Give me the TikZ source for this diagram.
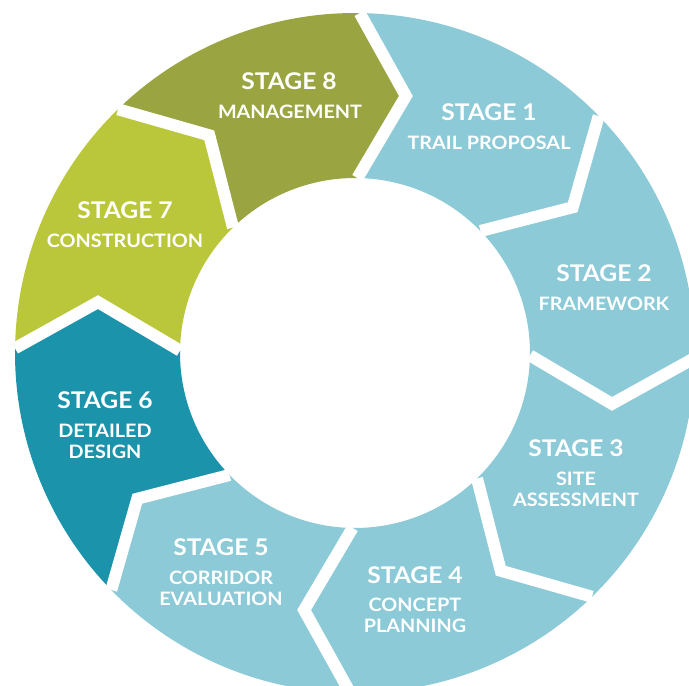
\documentclass[tikz,border=0pt]{standalone}
\usepackage{fontspec}
\setmainfont{Lato}[FakeStretch=1.07]
\definecolor{stageblue}{RGB}{139,202,214}
\definecolor{stageteal}{RGB}{27,147,171}
\definecolor{stagelime}{RGB}{187,199,59}
\definecolor{stageolive}{RGB}{154,165,66}
\tikzset{
  gapline/.style={white, line width=12pt, line cap=square, line join=miter},
  ttl/.style={text=white, inner sep=0pt, font=\bfseries\fontsize{23}{26}\selectfont},
  sub/.style={text=white, inner sep=0pt, align=center, font=\bfseries\fontsize{18.5}{21}\selectfont},
}
\begin{document}
\begin{tikzpicture}[x=1pt,y=1pt]
\clip (0,0) rectangle (689,686);
\begin{scope}[shift={(355,333)}]
  \foreach \k/\col in {0/stageblue,1/stageblue,2/stageblue,3/stageblue,4/stageblue,5/stageteal,6/stagelime,7/stageolive}{
    \pgfmathsetmacro\bb{89.2-45*\k}
    \pgfmathsetmacro\ee{\bb-45}
    \fill[\col] (\bb:340pt) -- ({\bb-10.4}:262pt) -- (\bb:175pt)
      arc[start angle=\bb, end angle=\ee, radius=175pt]
      -- ({\ee-10.4}:262pt) -- (\ee:340pt)
      arc[start angle=\ee, end angle=\bb, radius=340pt] -- cycle;
  }
  \foreach \k in {0,...,7}{
    \pgfmathsetmacro\bb{89.2-45*\k}
    \draw[gapline] (\bb:340pt) -- ({\bb-10.4}:262pt) -- (\bb:175pt);
  }
\end{scope}
\node[ttl] (t8) at (289,605) {STAGE 8};
\node[sub] (s8) at (290,574) {MANAGEMENT};
\node[ttl] (t1) at (489,574) {STAGE 1};
\node[sub] (s1) at (489,543) {TRAIL PROPOSAL};
\node[ttl] (t2) at (604,413) {STAGE 2};
\node[sub] (s2) at (604,382) {FRAMEWORK};
\node[ttl] (t3) at (576,238) {STAGE 3};
\node[sub] (s3) at (576,196.5) {SITE\\ASSESSMENT};
\node[ttl] (t4) at (415,111) {STAGE 4};
\node[sub] (s4) at (415,70.5) {CONCEPT\\PLANNING};
\node[ttl] (t5) at (221,139) {STAGE 5};
\node[sub] (s5) at (221,97.5) {CORRIDOR\\EVALUATION};
\node[ttl] (t6) at (105,286) {STAGE 6};
\node[sub] (s6) at (105,244.5) {DETAILED\\DESIGN};
\node[ttl] (t7) at (125,476) {STAGE 7};
\node[sub] (s7) at (125,445) {CONSTRUCTION};
\end{tikzpicture}
\end{document}
